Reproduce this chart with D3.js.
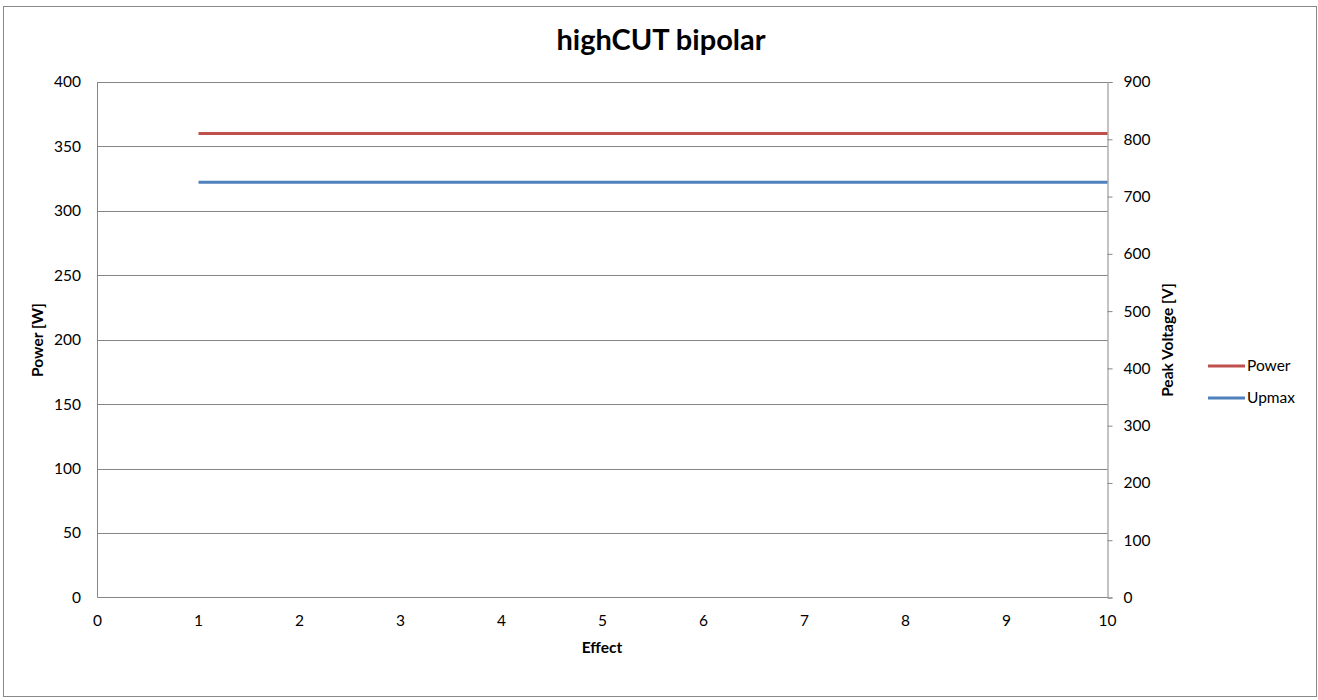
<!DOCTYPE html>
<html><head><meta charset="utf-8">
<script src="https://cdn.jsdelivr.net/npm/d3@7"></script>
<style>body{margin:0;background:#fff}svg{display:block}text{font-family:Lato,"Open Sans",sans-serif}</style>
</head><body>
<svg id="c" width="1318" height="700"></svg>
<script>
const effect = [1,2,3,4,5,6,7,8,9,10];
const power = [360,360,360,360,360,360,360,360,360,360];
const upmax = [725,725,725,725,725,725,725,725,725,725];
const xTicks = [0,1,2,3,4,5,6,7,8,9,10];
const leftTicks = [0,50,100,150,200,250,300,350,400];
const rightTicks = [0,100,200,300,400,500,600,700,800,900];
const seriesNames = ["Power","Upmax"];
const colors = ["#C0504D","#4F81BD"];

const FS = 15.5;
const svg = d3.select("#c");
const L=97.5, R=1107.5, T=82, B=597.5;
svg.append("rect").attr("x",3.5).attr("y",6.5).attr("width",1313).attr("height",690)
  .attr("fill","#fff").attr("stroke","#888").attr("stroke-width",1);

const x = d3.scaleLinear().domain([0,10]).range([L,R]);
const yL = d3.scaleLinear().domain([0,400]).range([B,T]);
const yR = d3.scaleLinear().domain([0,900]).range([B,T]);

svg.append("g").selectAll("line").data(leftTicks.filter(d=>d>0)).join("line")
  .attr("x1",L).attr("x2",R).attr("y1",d=>Math.round(yL(d))+0.5).attr("y2",d=>Math.round(yL(d))+0.5)
  .attr("stroke","#868686").attr("stroke-width",1);

svg.append("g").selectAll("text").data(leftTicks).join("text")
  .attr("x",81).attr("y",d=>yL(d)).attr("dy","0.35em").attr("text-anchor","end")
  .attr("font-size",FS).attr("fill","#000").text(d=>d);
svg.append("line").attr("x1",L).attr("x2",L).attr("y1",T).attr("y2",B).attr("stroke","#868686");
svg.append("line").attr("x1",L).attr("x2",R).attr("y1",B).attr("y2",B).attr("stroke","#868686");
svg.append("g").selectAll("text").data(xTicks).join("text")
  .attr("x",d=>x(d)).attr("y",621).attr("dy","0.35em").attr("text-anchor","middle")
  .attr("font-size",FS).attr("fill","#000").text(d=>d);

const ra = svg.append("g").attr("transform",`translate(${R},0)`)
  .call(d3.axisRight(yR).tickValues(rightTicks).tickSize(5).tickPadding(11).tickFormat(d3.format("d")));
ra.select(".domain").attr("stroke","#868686");
ra.selectAll(".tick line").attr("stroke","#868686");
ra.selectAll(".tick text").attr("font-size",FS).attr("fill","#000").attr("font-family","Lato,'Open Sans',sans-serif");

const lineL = d3.line().x((d,i)=>x(effect[i])).y(d=>yL(d));
const lineR = d3.line().x((d,i)=>x(effect[i])).y(d=>yR(d));
svg.append("path").attr("d",lineL(power)).attr("fill","none").attr("stroke",colors[0]).attr("stroke-width",3);
svg.append("path").attr("d",lineR(upmax)).attr("fill","none").attr("stroke",colors[1]).attr("stroke-width",3);

svg.append("text").attr("x",661).attr("y",50).attr("text-anchor","middle").attr("font-size",29)
  .attr("font-weight","bold").text("highCUT bipolar");
svg.append("text").attr("x",602).attr("y",648).attr("dy","0.35em").attr("text-anchor","middle").attr("font-size",FS)
  .attr("font-weight","bold").text("Effect");
svg.append("text").attr("transform","translate(38,340) rotate(-90)").attr("dy","0.35em").attr("text-anchor","middle")
  .attr("font-size",FS).attr("font-weight","bold").text("Power [W]");
svg.append("text").attr("transform","translate(1168,340) rotate(-90)").attr("dy","0.35em").attr("text-anchor","middle")
  .attr("font-size",FS).attr("font-weight","bold").text("Peak Voltage [V]");

const lg = svg.append("g").selectAll("g").data(seriesNames).join("g")
  .attr("transform",(d,i)=>`translate(1208,${366+i*32})`);
lg.append("line").attr("x1",0).attr("x2",37).attr("stroke",(d,i)=>colors[i]).attr("stroke-width",3);
lg.append("text").attr("x",39).attr("dy","0.35em").attr("font-size",FS).text(d=>d);
</script>
</body></html>
